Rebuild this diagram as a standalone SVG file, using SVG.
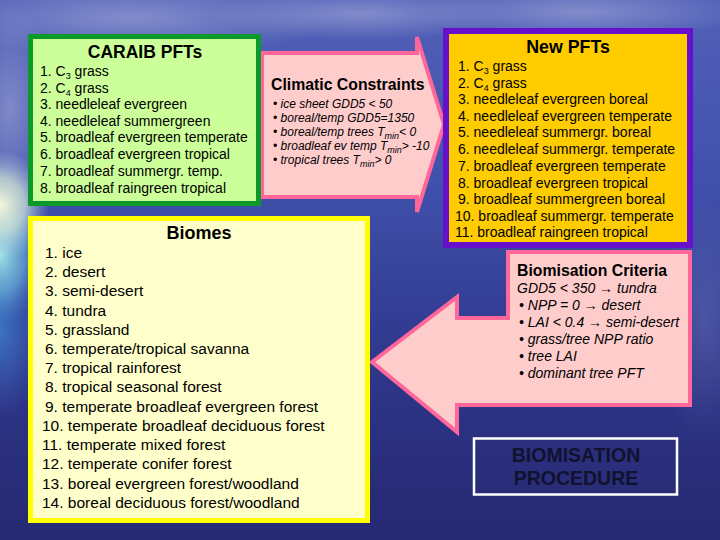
<svg xmlns="http://www.w3.org/2000/svg" width="720" height="540" viewBox="0 0 720 540">
<defs>
<linearGradient id="bg" x1="0" y1="0" x2="0" y2="1">
<stop offset="0" stop-color="#5260b8"/>
<stop offset="0.35" stop-color="#4050aa"/>
<stop offset="0.6" stop-color="#323c92"/>
<stop offset="0.8" stop-color="#2b3080"/>
<stop offset="1" stop-color="#262a72"/>
</linearGradient>
<radialGradient id="sun" cx="0.5" cy="0.5" r="0.5">
<stop offset="0" stop-color="#f4f6d8" stop-opacity="1"/>
<stop offset="0.5" stop-color="#d8ecd8" stop-opacity="0.7"/>
<stop offset="1" stop-color="#a8c8e0" stop-opacity="0"/>
</radialGradient>
<radialGradient id="cyan" cx="0.5" cy="0.5" r="0.5">
<stop offset="0" stop-color="#a8ecec" stop-opacity="0.95"/>
<stop offset="0.55" stop-color="#70c0e0" stop-opacity="0.6"/>
<stop offset="1" stop-color="#4a80c8" stop-opacity="0"/>
</radialGradient>
<radialGradient id="sea" cx="0.5" cy="0.5" r="0.5">
<stop offset="0" stop-color="#3c7ac8" stop-opacity="0.9"/>
<stop offset="1" stop-color="#3c6ac0" stop-opacity="0"/>
</radialGradient>
<radialGradient id="cloud" cx="0.5" cy="0.5" r="0.5">
<stop offset="0" stop-color="#98a0d4" stop-opacity="0.7"/>
<stop offset="1" stop-color="#98a0d4" stop-opacity="0"/>
</radialGradient>
<style>
text{font-family:"Liberation Sans",Arial,Helvetica,sans-serif;fill:#000}
.title{font-weight:bold;text-anchor:middle}
.item{font-size:14px}
.biome{font-size:15.5px}
.it{font-style:italic}
.sub{font-size:9px}
.pink{fill:#ffcccc;stroke:#ff6699;stroke-width:4;stroke-linejoin:miter}
</style>
</defs>
<g id="background">
<rect x="0" y="0" width="720" height="540" fill="url(#bg)"/>
<ellipse cx="130" cy="18" rx="210" ry="38" fill="url(#cloud)"/>
<ellipse cx="360" cy="14" rx="150" ry="26" fill="url(#cloud)"/>
<ellipse cx="580" cy="12" rx="170" ry="28" fill="url(#cloud)"/>
<ellipse cx="10" cy="110" rx="45" ry="110" fill="url(#cloud)"/>
<ellipse cx="0" cy="330" rx="45" ry="90" fill="url(#sea)"/>
<ellipse cx="0" cy="255" rx="45" ry="70" fill="url(#cyan)"/>
<ellipse cx="0" cy="205" rx="50" ry="55" fill="url(#sun)"/>
<ellipse cx="705" cy="320" rx="50" ry="120" fill="url(#cloud)" opacity="0.35"/>
</g>
<g id="connectors">
<g id="climatic-constraints">
<polygon class="pink" points="262,53 417,53 417,37 444,124.5 417,212 417,197 262,197"/>
<text x="271" y="90" style="font-weight:bold;font-size:15.8px">Climatic Constraints</text>
<g style="font-size:12px">
<text x="273" y="108" class="it">• ice sheet  GDD5 &lt; 50</text>
<text x="273" y="122" class="it">• boreal/temp  GDD5=1350</text>
<text x="273" y="136" class="it">• boreal/temp trees T<tspan class="sub" dy="3">min</tspan><tspan dy="-3">&lt; 0</tspan></text>
<text x="273" y="150" class="it">• broadleaf ev temp T<tspan class="sub" dy="3">min</tspan><tspan dy="-3">&gt; -10</tspan></text>
<text x="273" y="164" class="it">• tropical trees T<tspan class="sub" dy="3">min</tspan><tspan dy="-3">&gt; 0</tspan></text>
</g>
</g>
<g id="biomisation-criteria">
<polygon class="pink" points="372,362 457,297 457,318 508,318 508,252 690,252 690,405 457,405 457,432"/>
<text x="517" y="276" style="font-weight:bold;font-size:15.8px">Biomisation Criteria</text>
<g style="font-size:14px">
<text x="517" y="293" class="it">GDD5 &lt; 350 →  tundra</text>
<text x="519" y="310" class="it">• NPP = 0 → desert</text>
<text x="519" y="327" class="it">• LAI &lt; 0.4 → semi-desert</text>
<text x="519" y="344" class="it">• grass/tree NPP ratio</text>
<text x="519" y="361" class="it">• tree LAI</text>
<text x="519" y="378" class="it">• dominant tree PFT</text>
</g>
</g>
</g>
<g id="caraib-pfts">
<rect x="30.5" y="36.5" width="228" height="167" fill="#ccff99" stroke="#0a9a2a" stroke-width="5"/>
<text x="145" y="58" class="title" style="font-size:17.5px">CARAIB PFTs</text>
<text x="40" y="76" class="item">1. C<tspan class="sub" dy="3">3</tspan><tspan dy="-3"> grass</tspan></text>
<text x="40" y="92.5" class="item">2. C<tspan class="sub" dy="3">4</tspan><tspan dy="-3"> grass</tspan></text>
<text x="40" y="109" class="item">3. needleleaf evergreen</text>
<text x="40" y="125.5" class="item">4. needleleaf summergreen</text>
<text x="40" y="142" class="item">5. broadleaf evergreen temperate</text>
<text x="40" y="159" class="item">6. broadleaf evergreen tropical</text>
<text x="40" y="176" class="item">7. broadleaf summergr. temp.</text>
<text x="40" y="192.5" class="item">8. broadleaf raingreen tropical</text>
</g>
<g id="new-pfts">
<rect x="446" y="31" width="244" height="214" fill="#ffcc00" stroke="#6610cc" stroke-width="6"/>
<text x="568" y="53" class="title" style="font-size:17.8px">New PFTs</text>
<text x="458" y="71" class="item">1. C<tspan class="sub" dy="3">3</tspan><tspan dy="-3"> grass</tspan></text>
<text x="458" y="87.5" class="item">2. C<tspan class="sub" dy="3">4</tspan><tspan dy="-3"> grass</tspan></text>
<text x="458" y="104" class="item">3. needleleaf evergreen boreal</text>
<text x="458" y="120.5" class="item">4. needleleaf evergreen temperate</text>
<text x="458" y="137" class="item">5. needleleaf summergr. boreal</text>
<text x="458" y="154" class="item">6. needleleaf summergr. temperate</text>
<text x="458" y="171" class="item">7. broadleaf evergreen temperate</text>
<text x="458" y="187.5" class="item">8. broadleaf evergreen tropical</text>
<text x="458" y="204" class="item">9. broadleaf summergreen boreal</text>
<text x="455" y="220.5" class="item">10. broadleaf summergr. temperate</text>
<text x="455" y="237" class="item">11. broadleaf raingreen tropical</text>
</g>
<g id="biomes">
<rect x="30.5" y="218.5" width="337" height="302" fill="#ffffcc" stroke="#ffff00" stroke-width="5"/>
<text x="199" y="239" class="title" style="font-size:18px">Biomes</text>
<text x="45" y="258" class="biome">1. ice</text>
<text x="45" y="277" class="biome">2. desert</text>
<text x="45" y="296" class="biome">3. semi-desert</text>
<text x="45" y="315.5" class="biome">4. tundra</text>
<text x="45" y="334.5" class="biome">5. grassland</text>
<text x="45" y="354" class="biome">6. temperate/tropical savanna</text>
<text x="45" y="373" class="biome">7. tropical rainforest</text>
<text x="45" y="392" class="biome">8. tropical seasonal forest</text>
<text x="45" y="411.5" class="biome">9. temperate broadleaf evergreen forest</text>
<text x="42" y="431" class="biome">10. temperate broadleaf deciduous forest</text>
<text x="42" y="450" class="biome">11. temperate mixed forest</text>
<text x="42" y="469" class="biome">12. temperate conifer forest</text>
<text x="42" y="488.5" class="biome">13. boreal evergreen forest/woodland</text>
<text x="42" y="508" class="biome">14. boreal deciduous forest/woodland</text>
</g>
<g id="biomisation-procedure">
<rect x="474" y="438.5" width="203" height="56" fill="none" stroke="#ffffff" stroke-width="2.5"/>
<text x="576" y="462" class="title" style="font-size:19.5px;fill:#10122e">BIOMISATION</text>
<text x="576" y="485" class="title" style="font-size:19.5px;fill:#10122e">PROCEDURE</text>
</g>
</svg>
